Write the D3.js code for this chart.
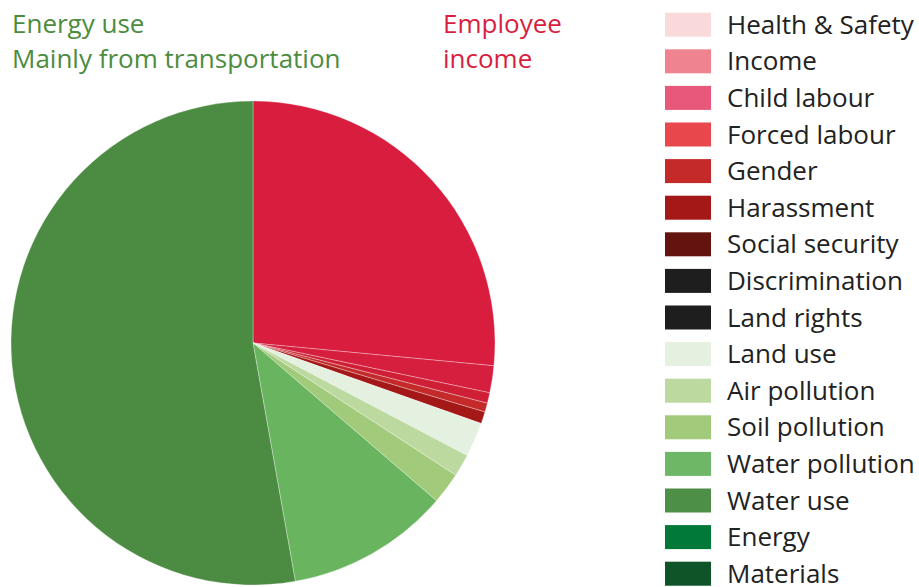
<!DOCTYPE html>
<html>
<head>
<meta charset="utf-8">
<script src="https://cdn.jsdelivr.net/npm/d3@7"></script>
<style>
  body { margin: 0; background: #fff; }
  svg { display: block; font-family: "Open Sans", "Noto Sans", sans-serif; }
</style>
</head>
<body>
<svg id="chart" width="919" height="587"></svg>
<script>
// slices of the pie, clockwise from 12 o'clock (share in %)
var sliceNames = ["Employee income", "Income", "Child labour", "Gender", "Harassment",
                  "Land use", "Air pollution", "Soil pollution", "Water pollution", "Energy use"];
var sliceValues = [26.5, 1.8, 0.7, 0.6, 0.8, 2.3, 1.5, 2.1, 10.9, 52.8];
var sliceColors = ["#d81d3e", "#d61e3e", "#cf1f36", "#c42a2a", "#a51818",
                   "#e4f0e0", "#bcd9a0", "#a1cb7b", "#69b45e", "#4c8c42"];

// legend
var legendLabels = ["Health & Safety", "Income", "Child labour", "Forced labour", "Gender",
                    "Harassment", "Social security", "Discrimination", "Land rights", "Land use",
                    "Air pollution", "Soil pollution", "Water pollution", "Water use", "Energy", "Materials"];
var legendColors = ["#f9d9d9", "#ef838f", "#e8587a", "#e8474c", "#c42a2a",
                    "#a51818", "#63140e", "#1e1e1e", "#1e1e1e", "#e4f0e0",
                    "#bcd9a0", "#a1cb7b", "#6db766", "#4e8f47", "#017a39", "#0e5428"];

// callouts at top
var greenNote = ["Energy use", "Mainly from transportation"];
var redNote = ["Employee", "income"];

var svg = d3.select("#chart");

var cx = 253, cy = 343, radius = 242;

var pie = d3.pie().sort(null).value(function(d) { return d; });
var arc = d3.arc().innerRadius(0).outerRadius(radius);

var g = svg.append("g").attr("transform", "translate(" + cx + "," + cy + ")");

g.selectAll("path")
  .data(pie(sliceValues))
  .enter().append("path")
    .attr("d", arc)
    .attr("fill", function(d, i) { return sliceColors[i]; })
    .attr("stroke", "rgba(255,255,255,0.45)")
    .attr("stroke-width", 0.7);

// notes
svg.append("g").selectAll("text")
  .data(greenNote)
  .enter().append("text")
    .attr("x", 12)
    .attr("y", function(d, i) { return 33 + i * 35; })
    .attr("fill", "#4c8c3f")
    .attr("font-size", 26)
    .text(function(d) { return d; });

svg.append("g").selectAll("text")
  .data(redNote)
  .enter().append("text")
    .attr("x", 443)
    .attr("y", function(d, i) { return 33 + i * 35; })
    .attr("fill", "#d81e3f")
    .attr("font-size", 26)
    .text(function(d) { return d; });

// legend
var legendY = d3.scalePoint()
  .domain(legendLabels)
  .range([12.7, 561.7]);

var legend = svg.append("g").selectAll("g")
  .data(legendLabels)
  .enter().append("g")
    .attr("transform", function(d) { return "translate(665," + legendY(d) + ")"; });

legend.append("rect")
  .attr("width", 46)
  .attr("height", 24)
  .attr("fill", function(d, i) { return legendColors[i]; });

legend.append("text")
  .attr("x", 62)
  .attr("y", 21)
  .attr("fill", "#222")
  .attr("font-size", 26)
  .text(function(d) { return d; });
</script>
</body>
</html>
